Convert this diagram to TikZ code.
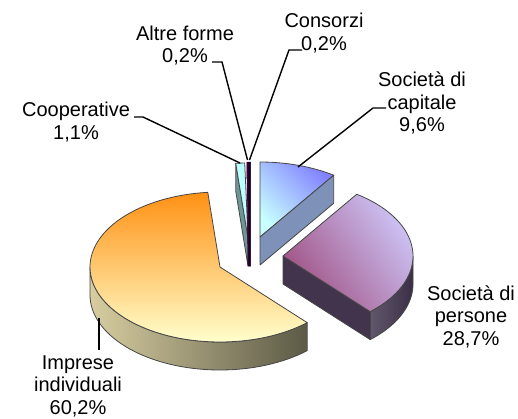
\documentclass[tikz,border=0pt]{standalone}
\usepackage{fontspec}
\setmainfont{Liberation Sans}
\definecolor{capA}{RGB}{200,255,255}
\definecolor{capB}{RGB}{130,130,255}
\definecolor{capS}{RGB}{125,145,185}
\definecolor{perA}{RGB}{160,80,130}
\definecolor{perB}{RGB}{205,195,245}
\definecolor{perE}{RGB}{66,52,76}
\definecolor{perS}{RGB}{58,46,70}
\definecolor{impA}{RGB}{255,145,20}
\definecolor{impM}{RGB}{255,210,140}
\definecolor{impB}{RGB}{255,255,205}
\definecolor{impL}{RGB}{215,205,160}
\definecolor{impR}{RGB}{92,90,70}
\definecolor{coopT}{RGB}{190,255,255}
\definecolor{coopS}{RGB}{110,150,150}
\definecolor{altC}{RGB}{60,0,60}
\definecolor{conC}{RGB}{20,0,30}
\definecolor{edgeC}{RGB}{70,70,70}
\begin{document}
\begin{tikzpicture}[x=1pt,y=-1pt,
  edge/.style={draw=edgeC, line width=0.8pt, line join=round},
  leader/.style={draw=black, line width=1.4pt},
  lab/.style={font=\fontsize{20}{22.5}\selectfont, align=center, inner sep=0pt}]
\useasboundingbox (0,0) rectangle (518,418);
% ---------- Societa di capitale ----------
\path[edge, top color=capA, bottom color=capB, shading angle=135]
  (260,237) -- plot[domain=0:34.56, samples=30] ({260+130*sin(\x)},{237-75*cos(\x)}) -- cycle;
\path[edge, fill=capS]
  (260,237) -- ({260+130*sin(34.56)},{237-75*cos(34.56)}) -- ++(0,28) -- (260,265) -- cycle;
% ---------- Cooperative ----------
\path[edge, fill=coopS]
  (248,238) -- ({248+130*sin(354.6)},{238-75*cos(354.6)}) -- ++(0,28) -- (248,266) -- cycle;
\path[edge, fill=coopT]
  (248,238) -- plot[domain=354.6:358.56, samples=5] ({248+130*sin(\x)},{238-75*cos(\x)}) -- cycle;
% ---------- Altre forme / Consorzi ----------
\path[fill=altC, draw=altC, line width=0.5pt] (246.8,162) -- (248.8,162) -- (249.2,266) -- (248,266) -- cycle;
\path[fill=conC, draw=conC, line width=0.5pt] (248.8,162) -- (250.6,162) -- (250.6,266) -- (249.2,266) -- cycle;
% ---------- Societa di persone ----------
\path[edge, left color=perS!80!white, right color=perS]
  plot[domain=90:137.88, samples=20] ({283+130*sin(\x)},{256-75*cos(\x)})
  -- plot[domain=137.88:90, samples=20] ({283+130*sin(\x)},{284-75*cos(\x)}) -- cycle;
\path[edge, fill=perE]
  (283,256) -- ({283+130*sin(137.88)},{256-75*cos(137.88)}) -- ++(0,28) -- (283,284) -- cycle;
\path[edge, top color=perA, bottom color=perB, shading angle=125]
  (283,256) -- plot[domain=34.56:137.88, samples=40] ({283+130*sin(\x)},{256-75*cos(\x)}) -- cycle;
% ---------- Imprese individuali ----------
\path[edge, left color=impL, right color=impR]
  plot[domain=137.88:270, samples=50] ({220+130*sin(\x)},{267-75*cos(\x)})
  -- plot[domain=270:137.88, samples=50] ({220+130*sin(\x)},{295-75*cos(\x)}) -- cycle;
\path[edge, top color=impA, middle color=impM, bottom color=impB]
  (220,267) -- plot[domain=137.88:354.6, samples=80] ({220+130*sin(\x)},{267-75*cos(\x)}) -- cycle;
% ---------- labels ----------
\node[lab] (lcons) at (324,33) {Consorzi\\0,2\%};
\node[lab] (lalt) at (185,45.5) {Altre forme\\0,2\%};
\node[lab] (lcoop) at (76,122) {Cooperative\\1,1\%};
\node[lab] (lcap) at (422,103) {Società di\\capitale\\9,6\%};
\node[lab] (lper) at (471,316.5) {Società di\\persone\\28,7\%};
\node[lab] (limp) at (78,386) {Imprese\\individuali\\60,2\%};
% ---------- leaders ----------
\coordinate (sCons) at (302,50);  \coordinate (tCons) at (249.5,160);
\coordinate (sAlt) at (212,62);   \coordinate (tAlt) at (247.5,160);
\coordinate (sCoop) at (134,117); \coordinate (tCoop) at (240,163);
\coordinate (sCap) at (386,108);  \coordinate (tCap) at (298,167);
\coordinate (sImp) at (99,350);   \coordinate (tImp) at (99,318);
\draw[leader] (sCons) -- ++(-13,0) -- (tCons);
\draw[leader] (sAlt) -- ++(10,0) -- (tAlt);
\draw[leader] (sCoop) -- ++(9,0) -- (tCoop);
\draw[leader] (sCap) -- ++(-13,0) -- (tCap);
\draw[leader] (sImp) -- (tImp);
\end{tikzpicture}
\end{document}
